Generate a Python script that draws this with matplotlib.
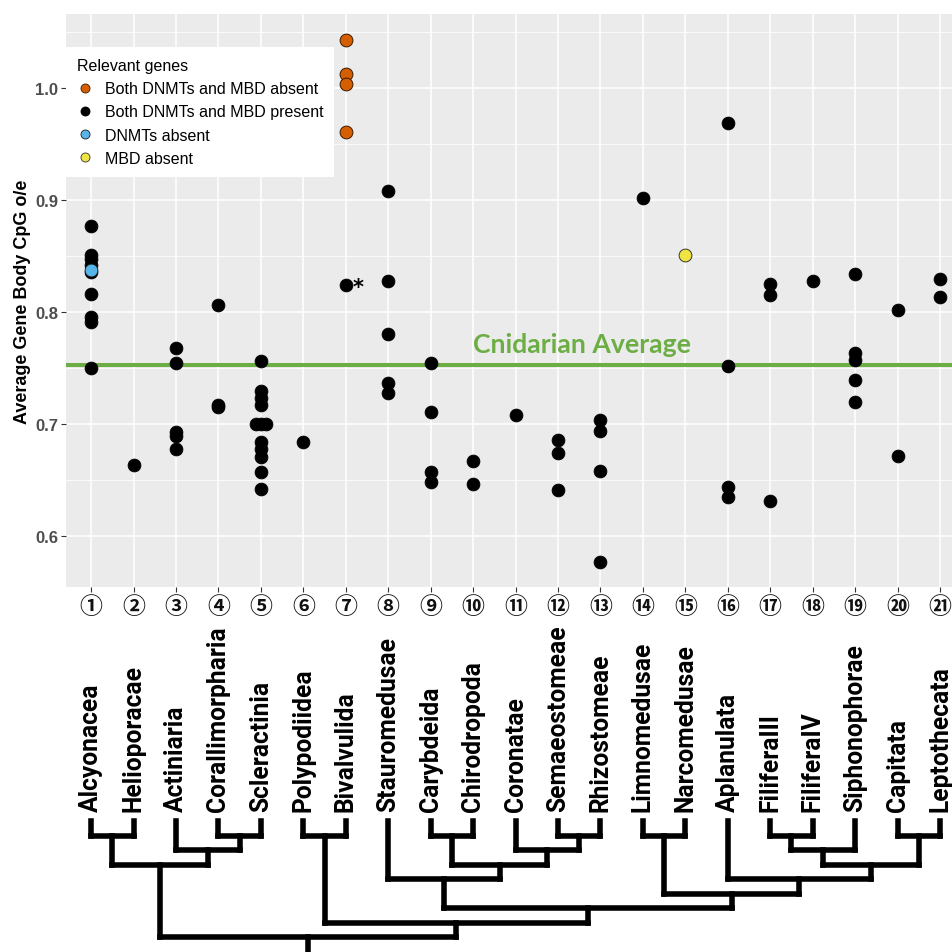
import matplotlib
matplotlib.use("Agg")
import matplotlib.pyplot as plt
from matplotlib.lines import Line2D
from matplotlib.transforms import blended_transform_factory

# ---------------- data ----------------
clades = ["Alcyonacea", "Helioporacae", "Actiniaria", "Corallimorpharia", "Scleractinia",
          "Polypodiidea", "Bivalvulida", "Stauromedusae", "Carybdeida", "Chirodropoda",
          "Coronatae", "Semaeostomeae", "Rhizostomeae", "Limnomedusae", "Narcomedusae",
          "Aplanulata", "FiliferaIII", "FiliferaIV", "Siphonophorae", "Capitata", "Leptothecata"]
circled = ["①", "②", "③", "④", "⑤", "⑥", "⑦", "⑧", "⑨", "⑩", "⑪", "⑫", "⑬", "⑭",
           "⑮", "⑯", "⑰", "⑱", "⑲", "⑳", "㉑"]

# Both DNMTs and MBD present (black), per clade 1..21
present = [
    [0.8762, 0.851, 0.847, 0.842, 0.835, 0.8157, 0.795, 0.7905, 0.7495],
    [0.6634],
    [0.7676, 0.7539, 0.6923, 0.6893, 0.6774],
    [0.8063, 0.7167, 0.7145],
    [0.7563, 0.7295, 0.7229, 0.7167, 0.6997, 0.6834, 0.6774, 0.670, 0.6566, 0.6417],
    [0.6834],
    [0.8235],
    [0.908, 0.8272, 0.780, 0.7363, 0.7274],
    [0.7539, 0.7107, 0.6566, 0.6477],
    [0.667, 0.6462],
    [0.7078],
    [0.6854, 0.6741, 0.6408],
    [0.7033, 0.6938, 0.6575, 0.5768],
    [0.9015],
    [],
    [0.9688, 0.7512, 0.6438, 0.6343],
    [0.825, 0.8146, 0.6307],
    [0.8277],
    [0.834, 0.7631, 0.7571, 0.7393, 0.7191],
    [0.8018, 0.6714],
    [0.8289, 0.8134],
]
# dodged duplicates in Scleractinia
dodged_x = [4.88, 5.12]
dodged_y = [0.6997, 0.6997]

both_absent_x = [7, 7, 7, 7]
both_absent_y = [1.0429, 1.0118, 1.0033, 0.9602]
dnmt_absent_x = [1]
dnmt_absent_y = [0.837]
mbd_absent_x = [15]
mbd_absent_y = [0.8504]

cnidarian_avg = 0.752

# tree: (level, left, right); leaves are clade numbers
tree = (8,
        (3, (1, 1, 2), (2, 3, (1, 4, 5))),
        (7, (1, 6, 7),
         (6,
          (4, 8, (3, (1, 9, 10), (2, 11, (1, 12, 13)))),
          (5, (1, 14, 15),
           (4, 16, (3, (2, (1, 17, 18), 19), (1, 20, 21)))))))

# ---------------- colours ----------------
col_both_absent = "#D55E00"
col_present = "#000000"
col_dnmt = "#56B4E9"
col_mbd = "#F0E442"
green = "#6CAE45"

W = H = 953
fig = plt.figure(figsize=(W / 100, H / 100), dpi=100)

def px(x0, y0, x1, y1):
    return [x0 / W, 1 - y1 / H, (x1 - x0) / W, (y1 - y0) / H]

ax = fig.add_axes(px(65.7, 15, 965.5, 588))
ax.set_facecolor("#EBEBEB")
ax.set_xlim(0.4, 21.6)
ax.set_ylim(0.5542, 1.0658)
for s in ax.spines.values():
    s.set_visible(False)

yt = [0.6, 0.7, 0.8, 0.9, 1.0]
ax.set_yticks(yt)
ax.set_yticklabels(["0.6", "0.7", "0.8", "0.9", "1.0"], fontfamily="Liberation Sans",
                   fontweight="bold", color="#4D4D4D", fontsize=12)
ax.set_yticks([0.65, 0.75, 0.85, 0.95, 1.05], minor=True)
ax.set_xticks(range(1, 22))
ax.set_xticklabels([])
ax.tick_params(axis="y", which="major", length=3.5, width=0.8, color="#333333", pad=2)
ax.tick_params(axis="y", which="minor", length=0)
ax.tick_params(axis="x", length=3.5, width=0.8, color="#333333")
ax.grid(True, which="major", color="white", lw=1.1)
ax.grid(True, which="minor", axis="y", color="white", lw=0.55)
ax.set_axisbelow(True)

ax.set_ylabel("Average Gene Body CpG o/e", fontfamily="Liberation Sans", fontweight="bold",
              fontsize=13, color="black", labelpad=3)

# cnidarian average
ax.axhline(cnidarian_avg, color=green, lw=2.9, zorder=2)
ax.text(12.57, 0.7643, "Cnidarian Average", color=green, fontfamily="Lato",
        fontweight="bold", fontsize=19.2, ha="center", va="baseline", zorder=3)

ms = 85
xs, ys = [], []
for i, vals in enumerate(present):
    xs += [i + 1] * len(vals)
    ys += vals
ax.scatter(xs + dodged_x, ys + dodged_y, s=ms, c=col_present, edgecolors="black", linewidths=0.6, zorder=4)
ax.scatter(both_absent_x, both_absent_y, s=ms, c=col_both_absent, edgecolors="#3A1A00", linewidths=0.7, zorder=5)
ax.scatter(dnmt_absent_x, dnmt_absent_y, s=ms, c=col_dnmt, edgecolors="#1a1a1a", linewidths=0.6, zorder=5)
ax.scatter(mbd_absent_x, mbd_absent_y, s=ms, c=col_mbd, edgecolors="#333333", linewidths=0.7, zorder=5)

ax.annotate("*", xy=(7, present[6][0]), xytext=(4.5, -1), textcoords="offset points",
            fontsize=15, fontweight="bold", fontfamily="DejaVu Sans", ha="left", va="center")

# legend
handles = [
    Line2D([], [], ls="none", marker="o", ms=6.5, mfc=col_both_absent, mec="#3A1A00", mew=0.6),
    Line2D([], [], ls="none", marker="o", ms=6.5, mfc=col_present, mec="black", mew=0.6),
    Line2D([], [], ls="none", marker="o", ms=6.5, mfc=col_dnmt, mec="#1a1a1a", mew=0.6),
    Line2D([], [], ls="none", marker="o", ms=6.5, mfc=col_mbd, mec="#333333", mew=0.6),
]
labels = ["Both DNMTs and MBD absent", "Both DNMTs and MBD present", "DNMTs absent", "MBD absent"]
leg = ax.legend(handles, labels, title="Relevant genes", loc="upper left",
                bbox_to_anchor=(66 / W, 1 - 48 / H), bbox_transform=fig.transFigure,
                borderaxespad=0, fancybox=False, framealpha=1, edgecolor="none",
                prop={"family": "Liberation Sans", "size": 11.5},
                title_fontproperties={"family": "Liberation Sans", "size": 11.5},
                alignment="left", handlelength=1.0, handletextpad=0.75, labelspacing=0.52,
                borderpad=0.68)
leg.set_zorder(6)

# circled numbers under the panel
tr = blended_transform_factory(ax.transData, fig.transFigure)
for i, c in enumerate(circled):
    ax.text(i + 1, 1 - 608 / H, c, transform=tr, ha="center", va="center",
            fontfamily=["Noto Sans CJK JP", "DejaVu Sans"], fontweight="bold", fontsize=16.5,
            color="#111111", clip_on=False)

# tree axes (y in tree-level units; level 0 at pixel 822, 14.5 px per level)
top_px, bot_px = 800, 953
ax_t = fig.add_axes(px(65.7, top_px, 965.5, bot_px))
ax_t.set_xlim(0.4, 21.6)
ax_t.set_ylim((bot_px - 822) / 14.5, (top_px - 822) / 14.5)
ax_t.axis("off")

lw_tree = 4.0

def draw(node):
    if isinstance(node, int):
        return float(node), 0.0
    lev, left, right = node
    xl, ll = draw(left)
    xr, lr = draw(right)
    for xx, l0 in ((xl, ll), (xr, lr)):
        ax_t.plot([xx, xx], [l0, lev], color="black", lw=lw_tree, solid_capstyle="projecting",
                  clip_on=False)
    ax_t.plot([xl, xr], [lev, lev], color="black", lw=lw_tree, solid_capstyle="projecting",
              clip_on=False)
    return (xl + xr) / 2, lev

rx, rl = draw(tree)
ax_t.plot([rx, rx], [rl, rl + 1.3], color="black", lw=lw_tree, clip_on=False)

for i, name in enumerate(clades):
    ax_t.text(i + 1, (812 - 822) / 14.5, name, rotation=90, ha="center", va="bottom",
              fontfamily="Roboto", fontweight="bold", fontsize=17.7, color="black",
              clip_on=False)

fig.savefig("out.png", dpi=100)
